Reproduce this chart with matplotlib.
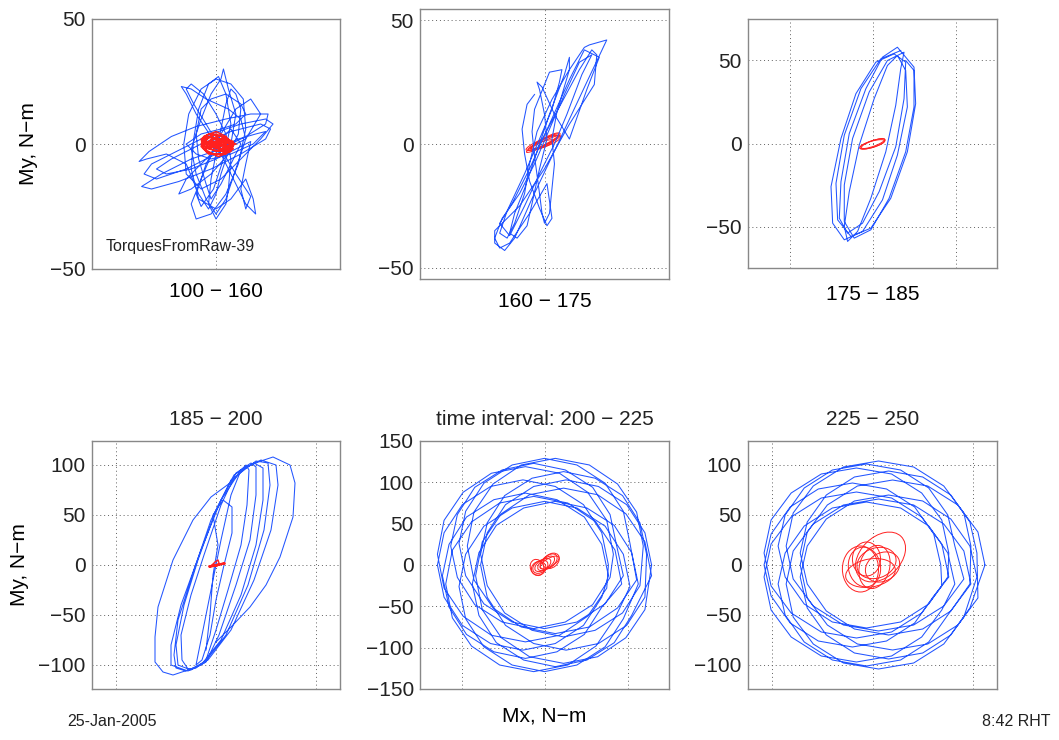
import matplotlib
matplotlib.use('Agg')
import matplotlib.pyplot as plt
from matplotlib.patches import Ellipse

plt.rcParams['font.family'] = ['Liberation Sans', 'DejaVu Sans']

# ---- 100 - 160 ----
p1_mx = [0, -8, -12, -14, -10, -4, 5, 10, 12, 8, 4, 0, -4, -8, -10, -6, -2, 2, 3, 5, 8, 6, 2, 0,
         -3, -7, -12, -20, -28, -31, -27, -18, -8, 4, 14, 21, 20, 12, 2, -10, -22, -30, -26, -15,
         -2, 10, 20, 22, 18, 6, -6, -18, -24, -20, -10, 0, 8, 14, 12, 10, 12, 14, 8, 2, -4, -9,
         -12, -10, -5, 0, 4, 6, 5, 4, 0, -3, -2, 0, 2, 4, 6, 8, 10, 9, 5, -2, -10, -15, -12, -6,
         0, 9, 16, 20, 15, 6, -2, -8, -12, -6, 2, 8, 12, 10, 4, -2, -6, -8, -7, -4, -2, 2, 6, 10, 6, 0,
         -6, -10, -8, -2, 4, 9, 12, 11, 6, 0, -6, -11, -13, -12, -6, 2, 10, 18, 23, 20, 10, -2, -14,
         -26, -29, -24, -12, 0, 12, 18, 14, 8, 2, -4, -8, -6, -1, 3, 6, 4, 1, -3, -7, -9, -10, -7, 0,
         6, 12, 15, 16, 12, 6, 0]
p1_my = [0, 12, 20, 23, 22, 18, 14, 10, 2, -10, -22, -28, -22, -12, -2, 10, 20, 26, 30, 22, 12, 0,
         -12, -20, -26, -20, -8, -4, -6, -7, -3, 3, 7, 10, 12, 12, 8, 3, -2, -6, -12, -17, -18, -15,
         -10, -4, 2, 6, 8, 5, 0, -6, -10, -12, -10, -6, -2, 1, -8, -18, -26, -21, -12, -2, 8, 16,
         22, 24, 20, 12, 4, -6, -18, -24, -30, -24, -14, -4, 6, 16, 22, 20, 14, 4, -4, -12, -18,
         -20, -14, -8, -2, 2, 4, 5, 0, -4, -6, -4, 0, 4, 6, 8, 12, 16, 20, 18, 14, 4, -6, -16, -22,
         -16, -8, 0, 6, 0,
         -14, -24, -30, -28, -20, -8, 6, 18, 24, 26, 22, 12, 0, -12, -18, -14, -6, 2, 8, 10, 8, 4, -2,
         -8, -12, -14, -10, -4, 2, 12, 18, 14, 4, -8, -20, -25, -18, -6, 8, 20, 27, 24, 14, 2, -10, -22,
         -26, -22, -14, -22, -28, -24, -12, 0]
p1_red_mx = [-5, 0, 5, 7, 3, -3, -6, -4, 1, 6, 4, -1, -5, -6, -3, 2, 7, 6, 1, -4, -5, -2, 3, 5,
             0, -4, -2, 4, 7, 2, -3, -6, -5, 0, 4, 6, 2, -2, -4, 0, 5, 3, -5, -1, 6,
             1, -3, 2, 5, -1, -4, 3, 7, 0, -5, 1, 4, -2, 2, 8, 3, -4]
p1_red_my = [2, 4, 2, -1, -3, -2, 0, 3, 2, 0, -4, -4, -2, 2, 4, 3, 1, -3, -5, -3, 1, 3, 1, -2,
             -3, -1, 2, 2, -2, -4, -4, -1, 3, 5, 3, 0, -2, -1, 1, 1, -1, -3, 1, 4, -2,
             0, 1, -1, 1, 2, -1, -2, 0, 1, 0, -1, 3, 0, -2, 0, 2, -2]

# ---- 160 - 175 ----
p2_mx = [-3, 6, 14, 19, 21, 20, 10, 0, -10, -20, -20, -16, -12, -5, 3, 10, 17, 25, 18, 16, 10,
         3, -3, -6, -8, -12, -15, -18, -15, -8, -2, 3, 6, 7, 2, 0, -4, -5, -4, -2, -1, 0, 2, 3, 4,
         3, 5, 10, 10, 8, 2, -3, -8, -12, -14, -11, -7, -5, -2, 1, 0, -2, -3, -1, 4, 10, 17, 22,
         16, 10, 2, -6, -13, -18, -14,
         -8, -2, 4, 9, 15, 19, 14, 8, 2, -4, -10, -17, -20, -18, -14, -6, 1, 3, 1, -2, -6, -8, -9,
         -7, -4]
p2_my = [-2, 15, 30, 38, 36, 24, 8, -10, -25, -35, -40, -43, -38, -22, -5, 10, 25, 42, 40, 39,
         30, 18, 5, -8, -20, -32, -38, -36, -27, -12, 2, 14, 25, 30, 29, 24, 14, 5, -5, -20, -28,
         -32, -28, -18, -8, 2, 13, 30, 35, 28, 12, -3, -18, -28, -36, -38, -33, -24, -10, 2, 12,
         22, 25, 23, 12, 2, 22, 35, 38, 26, 8, -10, -24, -32, -37,
         -25, -12, 0, 12, 28, 36, 33, 20, 6, -8, -20, -30, -38, -42, -40, -28, -16, -30, -33, -26,
         -15, -4, 6, 16, 20]
p2_red_cx = [-1, 0, 1, -0.5, 0.5, -1.5]
p2_red_cy = [0.5, 1, 0.8, 0, 1.2, -0.5]
p2_red_w = [14, 13, 12, 15, 13, 11]
p2_red_h = [2.6, 2.2, 3.0, 2.0, 2.8, 2.4]
p2_red_ang = [24, 27, 22, 26, 28, 20]

# ---- 175 - 185 ----
p3_mx = [17, 5, -7, -17, -22, -21, -13, -1, 11, 21, 26, 25,
         15, 6, -4, -14, -19, -20, -15, -6, 4, 14, 19, 20,
         13, 2, -10, -19, -25, -24, -17, -6, 6, 15, 21, 20,
         15, 9, 1, -8, -14, -17, -15, -9, -1, 8, 14, 17,
         19, 9, -2, -12, -17, -17, -11, -1, 10, 20, 25, 25, 20]
p3_my = [56, 51, 33, 5, -24, -46, -56, -51, -33, -5, 24, 46,
         58, 52, 33, 6, -23, -45, -54, -48, -29, -2, 27, 49,
         54, 49, 30, 3, -26, -48, -58, -53, -34, -7, 22, 44,
         53, 47, 27, -1, -29, -50, -59, -53, -33, -5, 23, 45,
         55, 50, 31, 3, -25, -47, -57, -52, -33, -5, 22, 44, 50]
p3_red_cx = [0, 0.3, -0.2]
p3_red_cy = [-0.3, 0, -0.5]
p3_red_w = [16, 15, 15.5]
p3_red_h = [4, 3.4, 3.8]
p3_red_ang = [18, 20, 16]

# ---- 185 - 200 ----
p4_mx = [-10, -6, -3, 2, -3, 7, 16, 16, 8, 0, -6, -14,
         -20, -12, -4, 5, 15, 25, 30, 33, 31, 25, 12, 0, -10, -20,
         -28, -34, -35, -25, -12, 5, 20, 35, 40, 40, 34, 20, 3, -10, -25,
         -38, -40, -32, -18, 0, 18, 38, 47, 47, 40, 25, 5, -15, -30,
         -40, -42, -38, -22, -5, 15, 40, 52, 54, 48, 32, 10, -12, -28,
         -45, -45, -35, -15, 5, 25, 45, 60, 62, 55, 38, 15, -8, -25,
         -43, -53, -61, -61, -58, -43, -23, -5, 14, 30, 45, 57, 74, 79, 77, 64, 50, 34, 15, 0]
p4_my = [-85, -50, -10, 20, 50, 65, 58, 32, 0, -35, -70, -95,
         -100, -60, -20, 25, 70, 95, 100, 95, 60, 20, -25, -65, -95, -103,
         -104, -95, -70, -30, 10, 60, 92, 102, 98, 70, 25, -20, -70, -97, -105,
         -100, -80, -40, 5, 55, 90, 102, 97, 65, 20, -30, -75, -100, -106,
         -103, -90, -55, -5, 45, 85, 104, 102, 80, 35, -20, -70, -98, -106,
         -100, -80, -40, 15, 65, 95, 105, 100, 80, 35, -15, -65, -95, -104,
         -110, -107, -97, -72, -42, 5, 45, 68, 82, 98, 104, 108, 100, 82, 48, 8, -20, -42, -62, -77]
p4_red_mx = [-7, -2, 4, 9, 6, 0, -6, -4, -1, 2, 3, 1, -3, 3, 8, 9, 2, -7, -5]
p4_red_my = [-1, 0, 1, 2, 1, -1, -2, 0, 3, 5, 2, -1, -1, 1, 2, 1, 0, -2, -1]

# ---- 200 - 225 ----
p5_mx = [129, 121, 99, 65, 26, -13, -47, -69, -77, -69, -47, -13, 26, 65, 99, 121,
         123, 115, 94, 61, 23, -15, -48, -69, -77, -69, -48, -15, 23, 61, 94, 115,
         119, 111, 88, 54, 13, -28, -62, -85, -93, -85, -62, -28, 13, 54, 88, 111,
         103, 95, 73, 39, 0, -39, -73, -95, -103, -95, -73, -39, 0, 39, 73, 95,
         87, 79, 58, 25, -13, -51, -84, -105, -113, -105, -84, -51, -13, 25, 58, 79,
         83, 75, 52, 18, -23, -64, -98, -121, -129, -121, -98, -64, -23, 18, 52, 75,
         77, 69, 47, 13, -26, -65, -99, -121, -129, -121, -99, -65, -26, 13, 47, 69,
         77, 69, 48, 15, -23, -61, -94, -115, -123, -115, -94, -61, -23, 15, 48, 69,
         93, 85, 62, 28, -13, -54, -88, -111, -119, -111, -88, -54, -13, 28, 62, 85,
         103, 95, 73, 39, 0, -39, -73, -95, -103, -95, -73, -39, 0, 39, 73, 95,
         113, 105, 84, 51, 13, -25, -58, -79, -87, -79, -58, -25, 13, 51, 84, 105,
         129, 121, 98, 64, 23, -18, -52, -75, -83, -75, -52, -18, 23, 64, 98, 121, 129]
p5_my = [0, 39, 73, 95, 103, 95, 73, 39, 0, -39, -73, -95, -103, -95, -73, -39,
         13, 51, 84, 105, 113, 105, 84, 51, 13, -25, -58, -79, -87, -79, -58, -25,
         23, 64, 98, 121, 129, 121, 98, 64, 23, -18, -52, -75, -83, -75, -52, -18,
         26, 65, 99, 121, 129, 121, 99, 65, 26, -13, -47, -69, -77, -69, -47, -13,
         23, 61, 94, 115, 123, 115, 94, 61, 23, -15, -48, -69, -77, -69, -48, -15,
         13, 54, 88, 111, 119, 111, 88, 54, 13, -28, -62, -85, -93, -85, -62, -28,
         0, 39, 73, 95, 103, 95, 73, 39, 0, -39, -73, -95, -103, -95, -73, -39,
         -13, 25, 58, 79, 87, 79, 58, 25, -13, -51, -84, -105, -113, -105, -84, -51,
         -23, 18, 52, 75, 83, 75, 52, 18, -23, -64, -98, -121, -129, -121, -98, -64,
         -26, 13, 47, 69, 77, 69, 47, 13, -26, -65, -99, -121, -129, -121, -99, -65,
         -23, 15, 48, 69, 77, 69, 48, 15, -23, -61, -94, -115, -123, -115, -94, -61,
         -13, 28, 62, 85, 93, 85, 62, 28, -13, -54, -88, -111, -119, -111, -88, -54, 0]
p5_red_cx = [-9, -7, -5, -2, 2, 5, 8, 6]
p5_red_cy = [-3, -4, -2, 0, 2, 4, 5, 3]
p5_red_w = [16, 18, 20, 22, 24, 24, 22, 26]
p5_red_h = [20, 16, 14, 12, 12, 14, 16, 10]
p5_red_ang = [20, 30, 35, 35, 38, 40, 40, 30]

# ---- 225 - 250 ----
p6_mx = [112, 105, 85, 55, 20, -15, -45, -65, -72, -65, -45, -15, 20, 55, 85, 105,
         104, 97, 78, 50, 16, -18, -46, -65, -72, -65, -46, -18, 16, 50, 78, 97,
         98, 91, 71, 41, 6, -29, -59, -79, -86, -79, -59, -29, 6, 41, 71, 91,
         82, 75, 56, 28, -6, -40, -68, -87, -94, -87, -68, -40, -6, 28, 56, 75,
         76, 69, 49, 19, -16, -51, -81, -101, -108, -101, -81, -51, -16, 19, 49, 69,
         68, 61, 42, 14, -20, -54, -82, -101, -108, -101, -82, -54, -20, 14, 42, 61,
         76, 69, 49, 19, -16, -51, -81, -101, -108, -101, -81, -51, -16, 19, 49, 69,
         82, 75, 56, 28, -6, -40, -68, -87, -94, -87, -68, -40, -6, 28, 56, 75,
         98, 91, 71, 41, 6, -29, -59, -79, -86, -79, -59, -29, 6, 41, 71, 91,
         104, 97, 78, 50, 16, -18, -46, -65, -72, -65, -46, -18, 16, 50, 78, 97, 112]
p6_my = [0, 33, 60, 79, 85, 79, 60, 33, 0, -33, -60, -79, -85, -79, -60, -33,
         12, 43, 70, 88, 94, 88, 70, 43, 12, -19, -46, -64, -70, -64, -46, -19,
         19, 52, 79, 98, 104, 98, 79, 52, 19, -14, -41, -60, -66, -60, -41, -14,
         19, 50, 77, 95, 101, 95, 77, 50, 19, -12, -39, -57, -63, -57, -39, -12,
         12, 45, 72, 91, 97, 91, 72, 45, 12, -21, -48, -67, -73, -67, -48, -21,
         0, 31, 58, 76, 82, 76, 58, 31, 0, -31, -58, -76, -82, -76, -58, -31,
         -12, 21, 48, 67, 73, 67, 48, 21, -12, -45, -72, -91, -97, -91, -72, -45,
         -19, 12, 39, 57, 63, 57, 39, 12, -19, -50, -77, -95, -101, -95, -77, -50,
         -19, 14, 41, 60, 66, 60, 41, 14, -19, -52, -79, -98, -104, -98, -79, -52,
         -12, 19, 46, 64, 70, 64, 46, 19, -12, -43, -70, -88, -94, -88, -70, -43, 0]
p6_red_cx = [8, -12, -8, 2, -2, 4, -6, 10]
p6_red_cy = [8, -4, -2, -2, -8, 2, 6, -2]
p6_red_w = [58, 36, 32, 30, 50, 40, 28, 36]
p6_red_h = [40, 46, 40, 44, 28, 30, 34, 28]
p6_red_ang = [45, 0, 10, -15, 10, 20, 0, 30]

titles = ['', '', '', '185 − 200', 'time interval: 200 − 225', '225 − 250']

BLUE = '#2255ff'
RED = '#ff2020'
W, H = 1059, 740
fig = plt.figure(figsize=(W / 100, H / 100), dpi=100)


def rect(l, t, r, b):
    return [l / W, 1 - b / H, (r - l) / W, (b - t) / H]


def setup(ax, xl, yl, xt, yt):
    ax.set_xlim(-xl, xl)
    ax.set_ylim(-yl, yl)
    ax.set_xticks(xt)
    ax.set_yticks(yt)
    ax.set_xticklabels([])
    ax.tick_params(length=0, labelsize=15, pad=4.5, colors='#222222')
    ax.grid(True, linestyle=(0, (1, 3)), color='#606060', lw=0.7)
    ax.set_axisbelow(True)
    for s in ax.spines.values():
        s.set_color('#888888')
        s.set_linewidth(1.0)


def ellipses(ax, cx, cy, w, h, ang):
    for i in range(len(cx)):
        ax.add_patch(Ellipse((cx[i], cy[i]), w[i], h[i], angle=ang[i],
                             fill=False, ec=RED, lw=0.7))


ax1 = fig.add_axes(rect(92, 19, 340, 269))
setup(ax1, 50, 50, [-50, 0, 50], [-50, 0, 50])
ax1.plot(p1_mx, p1_my, color=BLUE, lw=0.75)
ax1.plot(p1_red_mx, p1_red_my, color=RED, lw=1.1)
ax1.text(-44.5, -41, 'TorquesFromRaw-39', fontsize=11.5, va='center', color='#222222')
ax1.set_xlabel('100 − 160', fontsize=15, labelpad=5)
ax1.set_ylabel('My, N−m', fontsize=15, labelpad=9)

ax2 = fig.add_axes(rect(420, 9, 669, 279))
setup(ax2, 50, 54.5, [-50, 0, 50], [-50, 0, 50])
ax2.plot(p2_mx, p2_my, color=BLUE, lw=0.75)
ellipses(ax2, p2_red_cx, p2_red_cy, p2_red_w, p2_red_h, p2_red_ang)
ax2.set_xlabel('160 − 175', fontsize=15, labelpad=5)

ax3 = fig.add_axes(rect(748, 19, 997, 268))
setup(ax3, 75, 75, [-50, 0, 50], [-50, 0, 50])
ax3.plot(p3_mx, p3_my, color=BLUE, lw=0.75)
ellipses(ax3, p3_red_cx, p3_red_cy, p3_red_w, p3_red_h, p3_red_ang)
ax3.set_xlabel('175 − 185', fontsize=15, labelpad=8)

ax4 = fig.add_axes(rect(92, 441, 340, 689))
setup(ax4, 124, 124, [-100, 0, 100], [-100, -50, 0, 50, 100])
ax4.plot(p4_mx, p4_my, color=BLUE, lw=0.75)
ax4.plot(p4_red_mx, p4_red_my, color=RED, lw=1.0)
ax4.set_ylabel('My, N−m', fontsize=15, labelpad=7)

ax5 = fig.add_axes(rect(420, 441, 669, 689))
setup(ax5, 150, 150, [-100, 0, 100], [-150, -100, -50, 0, 50, 100, 150])
ax5.plot(p5_mx, p5_my, color=BLUE, lw=0.75)
ellipses(ax5, p5_red_cx, p5_red_cy, p5_red_w, p5_red_h, p5_red_ang)
ax5.set_xlabel('Mx, N−m', fontsize=15, labelpad=8)

ax6 = fig.add_axes(rect(748, 441, 997, 689))
setup(ax6, 124, 124, [-100, 0, 100], [-100, -50, 0, 50, 100])
ax6.plot(p6_mx, p6_my, color=BLUE, lw=0.75)
ellipses(ax6, p6_red_cx, p6_red_cy, p6_red_w, p6_red_h, p6_red_ang)

for ax, t in zip([ax1, ax2, ax3, ax4, ax5, ax6], titles):
    if t:
        ax.set_title(t, fontsize=15, pad=11.5, color='#222222')

fig.text(67 / W, 1 - 722 / H, '25-Jan-2005', fontsize=11.5, va='center', color='#222222')
fig.text(1050 / W, 1 - 722 / H, '8:42 RHT', fontsize=11.5, va='center', ha='right', color='#222222')

fig.savefig('out.png', dpi=100)
